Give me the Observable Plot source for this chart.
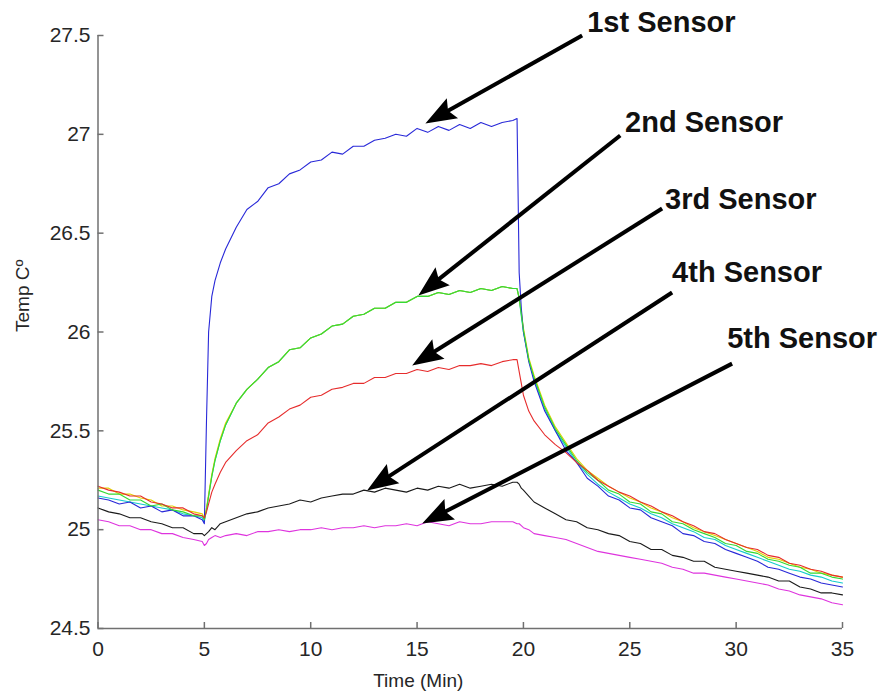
<!DOCTYPE html>
<html>
<head>
<meta charset="utf-8">
<script src="https://cdn.jsdelivr.net/npm/d3@7"></script>
<script src="https://cdn.jsdelivr.net/npm/@observablehq/plot@0.6"></script>
<style>
  body { margin: 0; background: #fff; }
  #chart svg { display: block; }
</style>
</head>
<body>
<div id="chart"></div>
<script>
// Sample times (minutes); denser around the heater switch-on (5 min) and switch-off (~19.7 min)
const time = [0,0.5,1,1.5,2,2.5,3,3.5,4,4.5,4.9,5,5.1,5.2,5.35,5.5,5.75,6,6.5,7,7.5,8,8.5,9,9.5,10,10.5,11,11.5,12,12.5,13,13.5,14,14.5,15,15.5,16,16.5,17,17.5,18,18.5,19,19.5,19.7,19.8,19.9,20,20.25,20.5,21,21.5,22,22.5,23,23.5,24,24.5,25,25.5,26,26.5,27,27.5,28,28.5,29,29.5,30,30.5,31,31.5,32,32.5,33,33.5,34,34.5,35];

// Temperatures (°C) for each trace, one value per sample time
const sensor1 = [25.16,25.15,25.13,25.14,25.11,25.12,25.09,25.10,25.07,25.07,25.05,25.03,
  25.55,26.00,26.18,26.26,26.35,26.42,
  26.53,26.62,26.66,26.73,26.75,26.80,26.82,26.86,26.87,26.91,26.90,26.94,26.94,26.97,26.98,27.00,26.99,27.03,27.01,27.04,27.02,27.05,27.03,27.06,27.04,27.06,27.07,
  27.08,26.30,26.12,26.00,25.85,25.75,
  25.60,25.50,25.40,25.34,25.26,25.22,25.17,25.15,25.11,25.10,25.06,25.04,25.02,24.98,24.97,24.94,24.93,24.90,24.88,24.86,24.84,24.81,24.80,24.78,24.76,24.75,24.73,24.72,24.71];

const sensor2 = [25.20,25.18,25.18,25.15,25.15,25.12,25.13,25.10,25.09,25.07,25.07,25.05,
  25.10,25.17,25.27,25.35,25.45,25.53,
  25.64,25.71,25.76,25.82,25.85,25.91,25.92,25.97,25.99,26.03,26.04,26.08,26.09,26.12,26.12,26.15,26.15,26.18,26.18,26.20,26.19,26.21,26.20,26.22,26.21,26.23,26.22,
  26.22,26.17,26.09,26.01,25.86,25.77,
  25.62,25.51,25.43,25.35,25.29,25.25,25.20,25.18,25.14,25.13,25.09,25.08,25.04,25.03,25.00,24.98,24.96,24.93,24.92,24.89,24.88,24.85,24.84,24.82,24.81,24.78,24.78,24.76,24.75];

const sensor3 = [25.22,25.20,25.19,25.17,25.17,25.14,25.13,25.11,25.11,25.08,25.07,25.06,
  25.09,25.13,25.19,25.23,25.29,25.34,
  25.40,25.45,25.48,25.54,25.57,25.61,25.63,25.67,25.68,25.71,25.72,25.74,25.74,25.77,25.77,25.79,25.79,25.81,25.80,25.82,25.81,25.83,25.83,25.84,25.83,25.85,25.86,
  25.86,25.80,25.74,25.68,25.60,25.55,
  25.48,25.43,25.39,25.34,25.30,25.25,25.22,25.19,25.17,25.14,25.12,25.09,25.07,25.04,25.02,24.99,24.98,24.95,24.93,24.91,24.90,24.87,24.86,24.83,24.82,24.80,24.79,24.77,24.76];

const sensor4 = [25.11,25.09,25.08,25.06,25.06,25.04,25.03,25.01,25.01,24.98,24.98,24.97,
  24.98,24.99,25.01,25.00,25.03,25.04,
  25.06,25.08,25.09,25.11,25.12,25.13,25.15,25.14,25.16,25.17,25.18,25.18,25.20,25.19,25.21,25.20,25.19,25.21,25.20,25.22,25.21,25.23,25.21,25.22,25.23,25.22,25.24,
  25.24,25.23,25.21,25.20,25.17,25.14,
  25.11,25.08,25.05,25.04,25.01,25.00,24.98,24.97,24.94,24.93,24.90,24.90,24.87,24.86,24.84,24.84,24.81,24.80,24.79,24.78,24.77,24.76,24.74,24.74,24.71,24.70,24.68,24.68,24.67];

const sensor5 = [25.05,25.04,25.02,25.02,25.00,25.00,24.98,24.98,24.96,24.95,24.94,24.92,
  24.93,24.95,24.96,24.97,24.96,24.97,
  24.98,24.97,24.99,24.99,25.00,24.99,25.00,25.00,25.01,25.00,25.01,25.01,25.02,25.01,25.02,25.02,25.03,25.02,25.04,25.03,25.02,25.04,25.03,25.03,25.04,25.04,25.04,
  25.03,25.03,25.02,25.01,25.00,24.98,
  24.97,24.96,24.95,24.93,24.91,24.89,24.88,24.87,24.86,24.85,24.84,24.83,24.81,24.80,24.78,24.78,24.77,24.76,24.75,24.74,24.73,24.72,24.70,24.69,24.67,24.66,24.65,24.63,24.62];

// Two further channels that run on top of the 2nd sensor while heating
const sensor6 = [25.17,25.16,25.15,25.14,25.13,25.12,25.11,25.10,25.08,25.07,25.06,25.04,
  25.10,25.17,25.27,25.35,25.45,25.53,
  25.64,25.71,25.76,25.82,25.85,25.91,25.92,25.97,25.99,26.03,26.04,26.08,26.09,26.12,26.12,26.15,26.15,26.18,26.18,26.20,26.19,26.21,26.20,26.22,26.21,26.23,26.22,
  26.22,26.17,26.08,26.00,25.86,25.76,
  25.61,25.50,25.42,25.34,25.28,25.23,25.19,25.16,25.13,25.11,25.08,25.06,25.03,25.01,24.99,24.96,24.95,24.92,24.90,24.88,24.86,24.84,24.82,24.80,24.79,24.77,24.76,24.74,24.73];

const sensor7 = [25.21,25.21,25.18,25.18,25.16,25.15,25.12,25.12,25.10,25.09,25.08,25.06,
  25.11,25.18,25.28,25.36,25.46,25.54,
  25.64,25.71,25.76,25.82,25.85,25.91,25.92,25.97,25.99,26.03,26.04,26.08,26.09,26.12,26.12,26.15,26.15,26.18,26.18,26.20,26.19,26.21,26.20,26.22,26.21,26.23,26.22,
  26.22,26.17,26.10,26.02,25.87,25.78,
  25.63,25.52,25.44,25.36,25.30,25.26,25.22,25.19,25.16,25.14,25.11,25.09,25.06,25.04,25.01,24.99,24.97,24.95,24.93,24.91,24.89,24.86,24.85,24.83,24.81,24.80,24.78,24.77,24.76];

// Axis ticks
const xTicks = [0, 5, 10, 15, 20, 25, 30, 35];
const yTicks = [24.5, 25, 25.5, 26, 26.5, 27, 27.5];

// Callouts: label text, label anchor (baseline start), arrow tail and arrow tip, in data units
const calloutLabels = ["1st Sensor", "2nd Sensor", "3rd Sensor", "4th Sensor", "5th Sensor"];
const labelX = [23.0, 24.78, 26.66, 26.99, 29.58];
const labelY = [27.52, 27.014, 26.62, 26.255, 25.92];
const tailX = [22.76, 24.55, 26.52, 26.99, 29.81];
const tailY = [27.50, 26.994, 26.625, 26.20, 25.84];
const tipX = [15.39, 15.06, 14.77, 12.65, 15.24];
const tipY = [27.055, 26.185, 25.83, 25.198, 25.031];

// Traces in drawing order (first ones end up underneath)
const traces = [
  {values: sensor6, color: "#14cccc"},
  {values: sensor7, color: "#e2d200"},
  {values: sensor1, color: "#2828d8"},
  {values: sensor2, color: "#34da34"},
  {values: sensor3, color: "#e62c2c"},
  {values: sensor5, color: "#de34de"},
  {values: sensor4, color: "#1a1a1a"}
];

const W = 883, H = 696;
const M = {left: 97.5, right: 41, top: 35, bottom: 68};
const plotW = W - M.left - M.right;
const plotH = H - M.top - M.bottom;
const axisColor = "#707070";
const textColor = "#262626";

const layout = {
  width: W, height: H,
  marginLeft: M.left, marginRight: M.right, marginTop: M.top, marginBottom: M.bottom,
  x: {domain: [0, 35]},
  y: {domain: [24.5, 27.5]},
  style: {fontFamily: "'Liberation Sans', Arial, Helvetica, sans-serif", background: "#fff", overflow: "visible"}
};

// Resolve the pixel scales once so the arrowheads can be oriented along their shafts
const probe = Plot.plot({...layout, marks: [Plot.frame({stroke: "none"})]});
const sx = probe.scale("x"), sy = probe.scale("y");
const toPx = d3.scaleLinear(sx.domain, sx.range);
const toPy = d3.scaleLinear(sy.domain, sy.range);

const HEAD_LEN = 31, HEAD_W = 23, NOTCH = 5;
const arrowHead = {
  draw(ctx) {
    ctx.moveTo(0, 0);
    ctx.lineTo(-HEAD_LEN, -HEAD_W / 2);
    ctx.lineTo(-HEAD_LEN + NOTCH, 0);
    ctx.lineTo(-HEAD_LEN, HEAD_W / 2);
    ctx.closePath();
  }
};

const callouts = calloutLabels.map((label, i) => {
  const x0 = toPx(tailX[i]), y0 = toPy(tailY[i]);
  const x1 = toPx(tipX[i]), y1 = toPy(tipY[i]);
  const a = Math.atan2(y1 - y0, x1 - x0);
  const back = HEAD_LEN - NOTCH - 1;
  return {
    label,
    lx: labelX[i], ly: labelY[i],
    tx: tailX[i], ty: tailY[i],
    hx: tipX[i], hy: tipY[i],
    ex: toPx.invert(x1 - back * Math.cos(a)),
    ey: toPy.invert(y1 - back * Math.sin(a)),
    angle: a * 180 / Math.PI
  };
});

const chart = Plot.plot({
  ...layout,
  marks: [
    // traces
    ...traces.map(tr => Plot.line(tr.values, {x: time, y: d => d, stroke: tr.color, strokeWidth: 1.1})),
    // axis lines (left and bottom only)
    Plot.ruleX([0], {stroke: axisColor, strokeWidth: 1.5}),
    Plot.ruleY([24.5], {stroke: axisColor, strokeWidth: 1.5}),
    // inward ticks
    Plot.tickX(xTicks, {x: d => d, insetTop: plotH - 6, stroke: axisColor, strokeWidth: 1.5}),
    Plot.tickY(yTicks, {y: d => d, insetRight: plotW - 6, stroke: axisColor, strokeWidth: 1.5}),
    // tick labels
    Plot.axisX({ticks: xTicks, tickSize: 0, tickPadding: 13, fontSize: 21, color: textColor, label: null, tickFormat: d => `${d}`}),
    Plot.axisY({ticks: yTicks, tickSize: 0, tickPadding: 7.5, fontSize: 21, color: textColor, label: null, tickFormat: d => `${d}`}),
    // axis titles
    Plot.text(["Temp Cº"], {text: d => d, frameAnchor: "left", dx: -75, rotate: -90, fontSize: 19, fill: textColor}),
    Plot.text(["Time (Min)"], {text: d => d, frameAnchor: "bottom", dx: -52, dy: 58, fontSize: 19, fill: textColor}),
    // callout arrows
    Plot.link(callouts, {x1: "tx", y1: "ty", x2: "ex", y2: "ey", stroke: "#000", strokeWidth: 4}),
    Plot.dot(callouts, {x: "hx", y: "hy", symbol: arrowHead, rotate: "angle", fill: "#000", stroke: "none", r: 10}),
    Plot.text(callouts, {x: "lx", y: "ly", text: "label", textAnchor: "start", lineAnchor: "bottom", fontSize: 29, fontWeight: "bold", fill: "#111"})
  ]
});

document.getElementById("chart").appendChild(chart);
</script>
</body>
</html>
